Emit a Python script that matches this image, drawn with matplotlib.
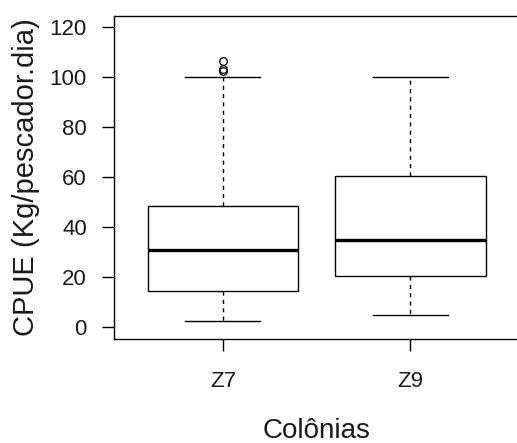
import matplotlib
matplotlib.use('Agg')
import matplotlib.pyplot as plt

# ---- dados ----
colonias = ['Z7', 'Z9']
mediana = [31.0, 35.0]
q1 = [14.7, 20.4]
q3 = [48.5, 60.4]
bigode_min = [2.4, 5.0]
bigode_max = [100.0, 100.0]
outliers = [[102.5, 103.5, 106.5], []]

plt.rcParams['font.family'] = ['Liberation Sans', 'DejaVu Sans']

W, H = 517, 443
fig = plt.figure(figsize=(W / 100, H / 100), dpi=100)
# eixo vai um pouco alem da borda direita (como no R original)
ax = fig.add_axes([114 / W, (H - 339.4) / H, (519.3 - 114) / W, (339.4 - 15.5) / H])

stats = []
for i in range(len(colonias)):
    stats.append(dict(label=colonias[i], med=mediana[i], q1=q1[i], q3=q3[i],
                      whislo=bigode_min[i], whishi=bigode_max[i], fliers=outliers[i]))

ax.bxp(stats, positions=[1, 2], widths=0.8, capwidths=0.4, patch_artist=True,
       boxprops=dict(facecolor='white', edgecolor='black', linewidth=1.0),
       medianprops=dict(color='black', linewidth=2.4, solid_capstyle='butt'),
       whiskerprops=dict(color='black', linestyle=(0, (3, 3)), linewidth=1.0),
       capprops=dict(color='black', linewidth=1.0),
       flierprops=dict(marker='o', markersize=5.5, markerfacecolor='none',
                       markeredgecolor='black', markeredgewidth=0.9))

ax.set_xlim(0.42, 2.58)
ax.set_ylim(-4.8, 124.8)
ax.set_yticks([0, 20, 40, 60, 80, 100, 120])

for s in ax.spines.values():
    s.set_linewidth(1.0)

ax.tick_params(axis='both', direction='out', length=8.6, width=1.0,
               labelsize=16, colors='black', labelcolor='#1a1a1a')
ax.tick_params(axis='y', pad=11)
ax.tick_params(axis='x', pad=14)

ax.set_xlabel('Colônias', fontsize=20, color='#1a1a1a')
ax.set_ylabel('CPUE (Kg/pescador.dia)', fontsize=21, color='#1a1a1a')
ax.xaxis.set_label_coords(0.5, -0.282)
ax.xaxis.label.set_va('center')
ax.yaxis.set_label_coords(-0.217, 0.5)
ax.yaxis.label.set_va('center')

fig.savefig('out.png', dpi=100)
